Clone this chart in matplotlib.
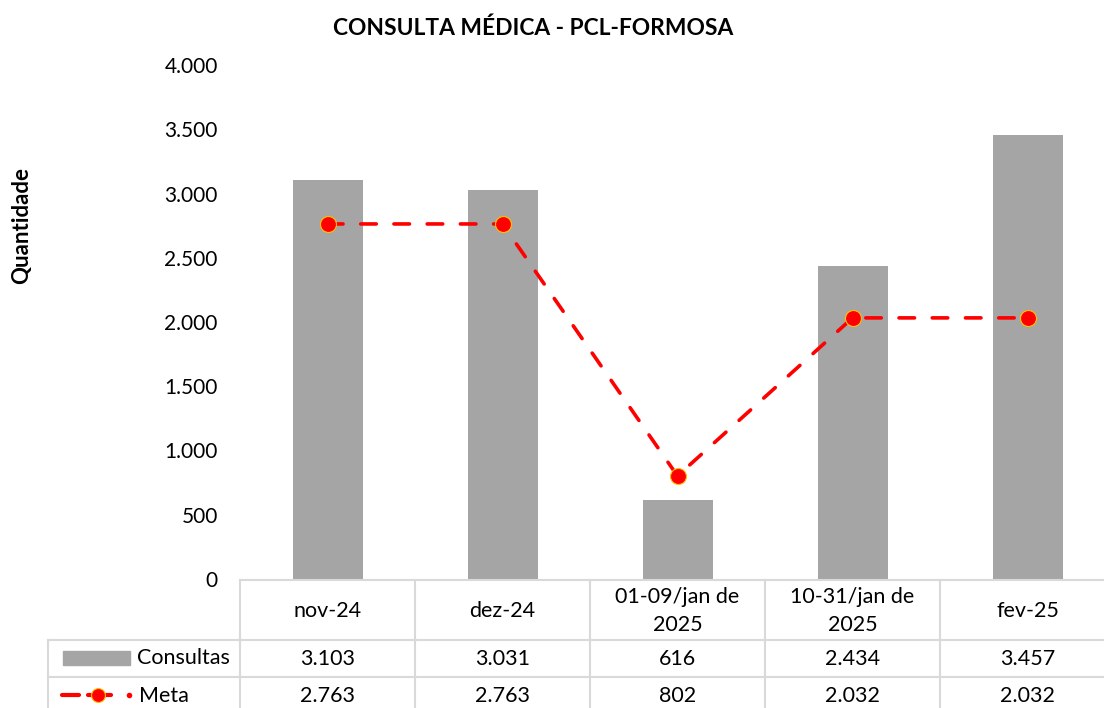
import matplotlib.pyplot as plt
from matplotlib.lines import Line2D
from matplotlib.patches import Rectangle

categorias = ["nov-24", "dez-24", "01-09/jan de\n2025", "10-31/jan de\n2025", "fev-25"]
consultas = [3103, 3031, 616, 2434, 3457]
meta = [2763, 2763, 802, 2032, 2032]

plt.rcParams['font.family'] = ['Lato', 'DejaVu Sans']

W, H = 1104, 708
fig = plt.figure(figsize=(W / 100, H / 100), dpi=100)
# axes in pixel terms: x 240..1115, y 65..579
ax = fig.add_axes([240 / W, 1 - 579 / H, (1115 - 240) / W, (579 - 65) / H])

x = list(range(len(categorias)))
ax.bar(x, consultas, width=0.4, color="#A5A5A5", zorder=2)
ax.plot(x, meta, color="#FF0000", lw=2.6, ls=(0, (4.3, 4.9)), dash_capstyle="round",
        marker="o", markersize=11.5, markerfacecolor="#FF0000",
        markeredgecolor="#FFC000", markeredgewidth=0.8, zorder=3)

ax.set_xlim(-0.5, len(categorias) - 0.5)
ax.set_ylim(0, 4000)
ax.set_yticks(range(0, 4001, 500))
ax.set_yticklabels([f"{v:,}".replace(",", ".") for v in range(0, 4001, 500)])
ax.tick_params(axis="y", length=0, pad=16, labelsize=15)
ax.set_xticks([])
for s in ax.spines.values():
    s.set_visible(False)

fig.text(533 / W, 1 - 28 / H, "CONSULTA MÉDICA - PCL-FORMOSA", ha="center", va="center",
         fontsize=16.4, fontweight="bold")
fig.text(22 / W, 1 - 226 / H, "Quantidade", rotation=90, ha="center", va="center",
         fontsize=16, fontweight="bold")

# data table below the plot, in pixel units of the figure
def px(xp, yp):
    return xp / W, 1 - yp / H

grid = "#D9D9D9"
def hline(x0, x1, yp):
    fig.add_artist(Line2D([x0 / W, x1 / W], [1 - yp / H] * 2, color=grid, lw=1.5))
def vline(xp, y0, y1):
    fig.add_artist(Line2D([xp / W] * 2, [1 - y0 / H, 1 - y1 / H], color=grid, lw=1.5))

col_w = 175
hline(240, W + 20, 580)
hline(48, W + 20, 640)
hline(48, W + 20, 677)
vline(48, 640, H + 10)
for i in range(len(categorias)):
    vline(240 + i * col_w, 580, H + 10)

fs = 15.5
for i, (c, a, b) in enumerate(zip(categorias, consultas, meta)):
    cx = 240 + col_w * (i + 0.5)
    fig.text(*px(cx, 611), c, ha="center", va="center", fontsize=fs, linespacing=1.55)
    fig.text(*px(cx, 659), f"{a:,}".replace(",", "."), ha="center", va="center", fontsize=fs)
    fig.text(*px(cx, 696), f"{b:,}".replace(",", "."), ha="center", va="center", fontsize=fs)

# legend keys inside the table
fig.add_artist(Rectangle(px(63, 665), 67 / W, 14 / H, transform=fig.transFigure,
                         color="#A5A5A5"))
fig.text(*px(137, 658), "Consultas", ha="left", va="center", fontsize=fs)
fig.add_artist(Line2D([62 / W, 79 / W], [1 - 695 / H] * 2, color="#FF0000", lw=3,
                      solid_capstyle="round"))
fig.add_artist(Line2D([88 / W, 111 / W], [1 - 695 / H] * 2, color="#FF0000", lw=3,
                      solid_capstyle="round"))
fig.add_artist(Line2D([98 / W], [1 - 695 / H], marker="o", markersize=10, color="#FF0000",
                      markeredgecolor="#FFC000", markeredgewidth=0.8))
fig.add_artist(Line2D([129 / W], [1 - 695 / H], marker="o", markersize=4, color="#FF0000",
                      markeredgewidth=0))
fig.text(*px(139, 696), "Meta", ha="left", va="center", fontsize=fs)

fig.savefig("out.png", dpi=100)
